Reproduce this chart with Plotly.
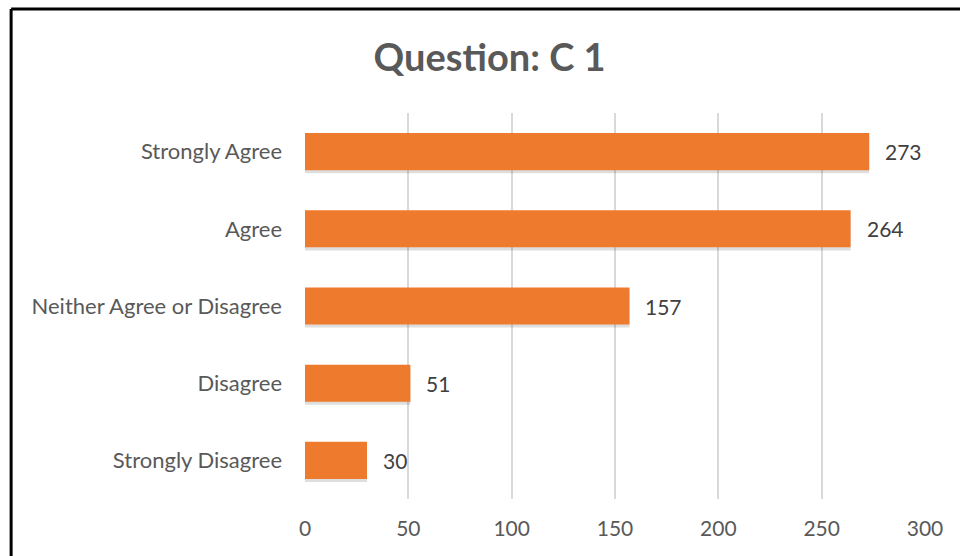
import plotly.graph_objects as go

categories = ["Strongly Disagree", "Disagree", "Neither Agree or Disagree", "Agree", "Strongly Agree"]
values = [30, 51, 157, 264, 273]
tick_vals = [0, 50, 100, 150, 200, 250, 300]
title_text = "Question: C 1"

FONT = "Lato, 'Open Sans', sans-serif"
BAR_W = 0.48

fig = go.Figure()
# soft shadow under each bar
fig.add_trace(go.Bar(
    y=categories, x=values, orientation="h",
    marker=dict(color="rgba(0,0,0,0.13)", line=dict(width=0)),
    width=BAR_W, offset=-BAR_W / 2 - 0.04, hoverinfo="skip",
))
fig.add_trace(go.Bar(
    y=categories, x=values, orientation="h",
    marker=dict(color="#EE7A2D", line=dict(width=0)),
    width=BAR_W, offset=-BAR_W / 2,
))

for c, v in zip(categories, values):
    fig.add_annotation(x=v, y=c, xref="x", yref="y", text=str(v),
                       showarrow=False, xanchor="left", xshift=14,
                       font=dict(size=21, color="#404040", family=FONT))

# frame around the chart area
fig.add_shape(type="line", xref="paper", yref="paper",
              x0=-0.474, x1=1.2, y0=1.2694, y1=1.2694,
              line=dict(color="black", width=3))
fig.add_shape(type="line", xref="paper", yref="paper",
              x0=-0.474, x1=-0.474, y0=1.2694, y1=-0.2,
              line=dict(color="black", width=3))

fig.update_layout(
    width=960, height=556,
    margin=dict(l=305, r=35, t=113, b=57),
    paper_bgcolor="white", plot_bgcolor="white",
    showlegend=False, barmode="overlay",
    title=dict(text="<b>" + title_text + "</b>", x=0.51, xanchor="center",
               y=0.897, yanchor="middle",
               font=dict(size=38, color="#595959", family=FONT)),
    font=dict(family=FONT, color="#595959", size=18),
    xaxis=dict(range=[0, 300], tickvals=tick_vals, showgrid=True,
               gridcolor="#D9D9D9", gridwidth=2, zeroline=False,
               showline=False, ticks="", tickfont=dict(size=21, color="#595959"),
               ticklabelstandoff=15),
    yaxis=dict(showgrid=False, zeroline=False, showline=False, ticks="",
               tickfont=dict(size=22, color="#595959"), ticklabelstandoff=22),
)

fig.write_html("out.html", config={"displayModeBar": False},
               post_script="document.body.style.margin='0';document.body.style.overflow='hidden';")
